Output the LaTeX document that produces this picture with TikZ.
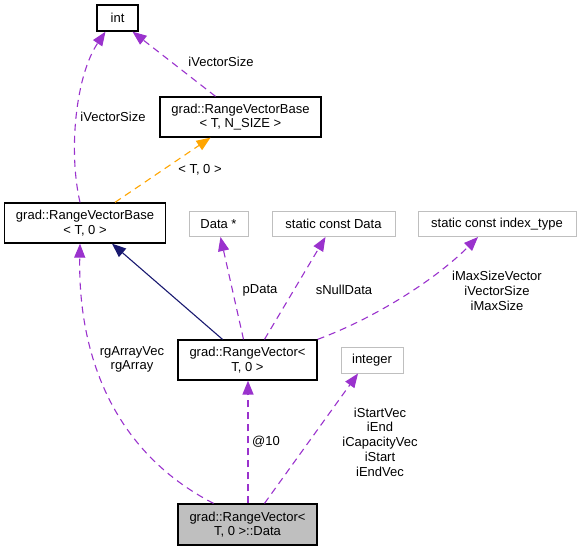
\documentclass[tikz,border=0pt]{standalone}
\usepackage{fontspec}
\setmainfont{Liberation Sans}
\usetikzlibrary{arrows.meta}
\definecolor{usepurple}{HTML}{9A32CD}
\definecolor{tplorange}{HTML}{FFA500}
\definecolor{inhnavy}{HTML}{191970}
\definecolor{extgrey}{HTML}{BFBFBF}
\tikzset{
	cls/.style={draw=black, line width=1.3pt, align=center, inner sep=0pt},
	extcls/.style={draw=extgrey, line width=1pt, align=center, inner sep=0pt},
	usage/.style={draw=usepurple, line width=1.1pt, dash pattern=on 7pt off 5pt, -{Triangle[length=14pt,width=11pt,fill=usepurple]}},
	tplinst/.style={draw=tplorange, line width=1.1pt, dash pattern=on 7pt off 5pt, -{Triangle[length=14pt,width=11pt,fill=tplorange]}},
	inherit/.style={draw=inhnavy, line width=1.1pt, -{Triangle[length=14pt,width=11pt,fill=inhnavy]}},
	lbl/.style={align=center, inner sep=0pt}
}

\begin{document}
\begin{tikzpicture}[x=1pt, y=-1pt, font=\fontsize{13}{14.7}\selectfont]
			%%%%% START %%%%%
			\useasboundingbox (0, 0) rectangle (581, 552);
			
			\node[cls, minimum width=41, minimum height=26] (int) at (117.5, 18) {int};
			\node[cls, minimum width=161, minimum height=40] (rvbn) at (240.5, 117) {grad::RangeVectorBase\\< T, N\_SIZE >};
			\node[cls, minimum width=161, minimum height=40] (rvb0) at (85, 223) {grad::RangeVectorBase\\< T, 0 >};
			
			\node[extcls, minimum width=59, minimum height=25] (dataptr) at (218.5, 224) {Data *};
			\node[extcls, minimum width=123, minimum height=25] (nulldata) at (333.5, 224) {static const Data};
			\node[extcls, minimum width=158, minimum height=25] (indextype) at (497, 224) {static const index\_type};
			
			\node[cls, minimum width=139, minimum height=40] (rv) at (247.5, 360) {grad::RangeVector<\\T, 0 >};
			\node[extcls, minimum width=62, minimum height=26] (integer) at (372, 360) {integer};
			\node[cls, fill=extgrey, minimum width=139, minimum height=41] (data) at (247.5, 524.5) {grad::RangeVector<\\T, 0 >::Data};
			
			% members of the base classes
			\draw[usage] ([xshift=-5]rvb0.north) .. controls (68, 150) and (76, 75) .. ([xshift=-12]int.south);
			\draw[usage] ([xshift=-25]rvbn.north) -- ([xshift=15]int.south);
			\draw[tplinst] ([xshift=30]rvb0.north) -- ([xshift=-30]rvbn.south);
			\node[lbl] (lvsa) at (113, 117) {iVectorSize};
			\node[lbl] (lvsb) at (221, 62) {iVectorSize};
			\node[lbl] (ltpl) at (200, 170) {< T, 0 >};
			
			% RangeVector
			\draw[inherit] ([xshift=-25]rv.north) -- ([xshift=27]rvb0.south);
			\draw[usage] ([xshift=-4]rv.north) -- ([xshift=2]dataptr.south);
			\draw[usage] ([xshift=17]rv.north) -- ([xshift=-8]nulldata.south);
			\draw[usage] (rv.north east) .. controls (375, 318) and (435, 280) .. ([xshift=-19]indextype.south);
			\node[lbl] (lpdata) at (260, 290) {pData};
			\node[lbl] (lnull) at (344, 290) {sNullData};
			\node[lbl] (lmax) at (497, 291) {iMaxSizeVector\\iVectorSize\\iMaxSize};
			
			% Data
			\draw[usage] ([xshift=-34]data.north) .. controls (110, 450) and (78, 350) .. ([xshift=-5]rvb0.south);
			\draw[usage, line width=1.6pt] ([xshift=0.5]data.north) -- ([xshift=0.5]rv.south);
			\draw[usage] ([xshift=17]data.north) -- ([xshift=-14]integer.south);
			\node[lbl] (larr) at (132, 359.5) {rgArrayVec\\rgArray};
			\node[lbl] (lten) at (266, 442) {@10};
			\node[lbl] (lidx) at (380, 442) {iStartVec\\iEnd\\iCapacityVec\\iStart\\iEndVec};
			
			%%%%% END %%%%%
		\end{tikzpicture}
\end{document}
